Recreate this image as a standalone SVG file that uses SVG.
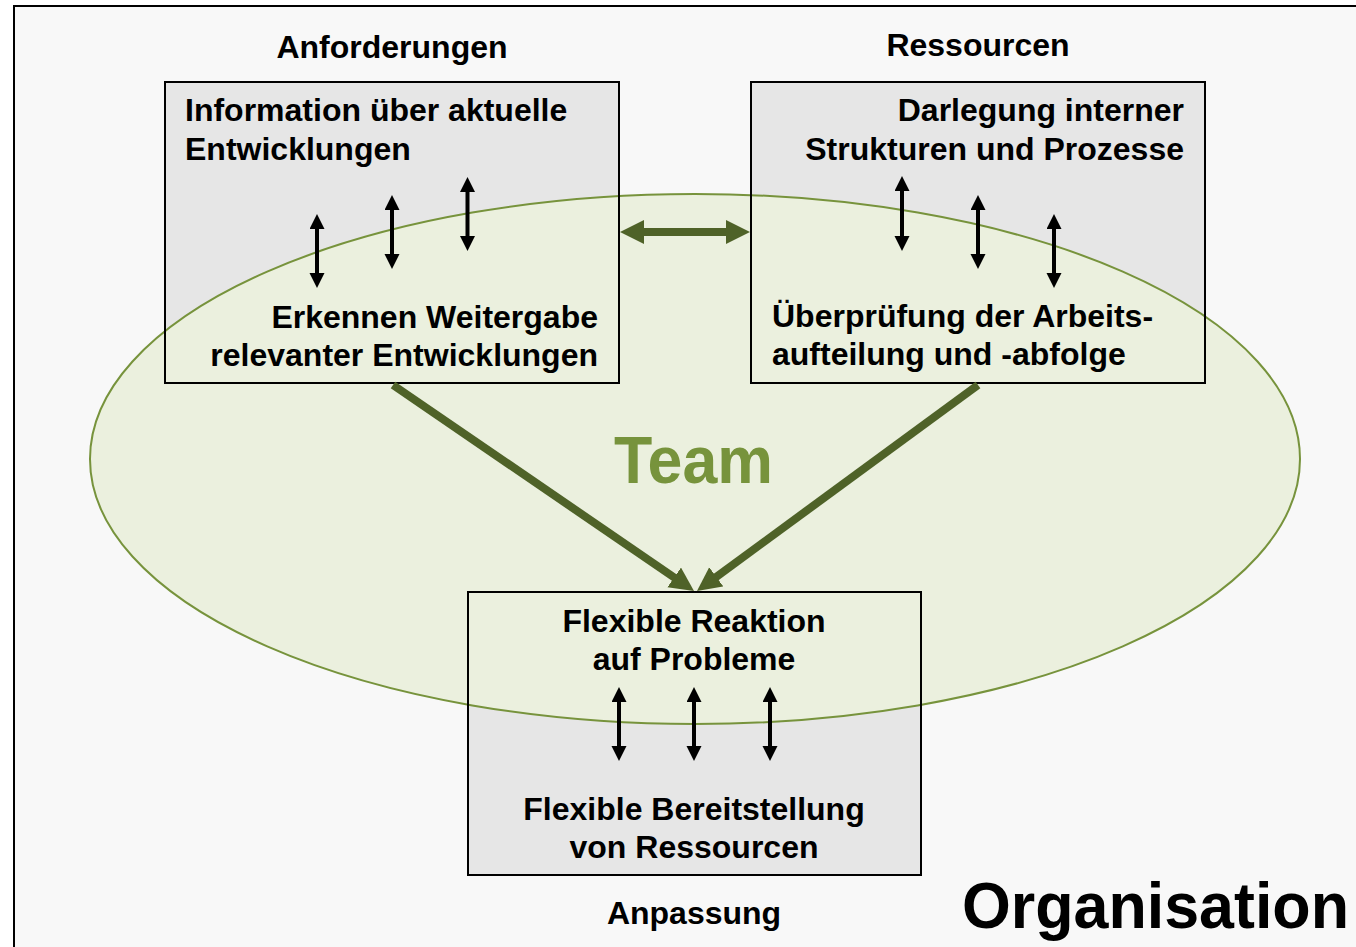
<svg xmlns="http://www.w3.org/2000/svg" width="1356" height="947" viewBox="0 0 1356 947">
<defs>
<style>
.t{font-family:"Liberation Sans",Arial,sans-serif;font-weight:bold;font-size:32px;fill:#000}
.box{fill:none;stroke:#000;stroke-width:2}
.fill{fill:#e6e6e6}
.blk{stroke:#000;stroke-width:4;fill:none;marker-start:url(#bh);marker-end:url(#bh)}
.grn{stroke:#4f6228;stroke-width:8;fill:none}
</style>
<marker id="bh" markerUnits="userSpaceOnUse" markerWidth="16" markerHeight="16" refX="3" refY="7.5" orient="auto-start-reverse" viewBox="0 0 16 16">
<path d="M0,0 L15,7.5 L0,15 z" fill="#000"/>
</marker>
<marker id="gh" markerUnits="userSpaceOnUse" markerWidth="25" markerHeight="25" refX="4" refY="12" orient="auto-start-reverse" viewBox="0 0 25 25">
<path d="M0,0 L24,12 L0,24 z" fill="#4f6228"/>
</marker>
</defs>
<rect x="0" y="0" width="1356" height="947" fill="#ffffff"/>
<rect id="frame" x="14" y="6" width="1400" height="1000" fill="#f8f8f8" stroke="#000" stroke-width="2"/>
<g id="box-fills">
<rect class="fill" x="165" y="82" width="454" height="301"/>
<rect class="fill" x="751" y="82" width="454" height="301"/>
<rect class="fill" x="468" y="592" width="453" height="283"/>
</g>
<g id="team">
<ellipse cx="695" cy="459" rx="605" ry="265" fill="#ebf0de" stroke="#77933c" stroke-width="2"/>
<text x="614" y="483" font-family="Liberation Sans, Arial, sans-serif" font-weight="bold" font-size="66" fill="#77933c" textLength="159" lengthAdjust="spacingAndGlyphs">Team</text>
</g>
<g id="anforderungen">
<rect class="box" x="165" y="82" width="454" height="301"/>
<text class="t" x="392" y="58" text-anchor="middle">Anforderungen</text>
<text class="t" x="185" y="121">Information über aktuelle</text>
<text class="t" x="185" y="160">Entwicklungen</text>
<text class="t" x="598" y="328" text-anchor="end">Erkennen Weitergabe</text>
<text class="t" x="598" y="366" text-anchor="end">relevanter Entwicklungen</text>
</g>
<g id="ressourcen">
<rect class="box" x="751" y="82" width="454" height="301"/>
<text class="t" x="978" y="56" text-anchor="middle">Ressourcen</text>
<text class="t" x="1184" y="121" text-anchor="end">Darlegung interner</text>
<text class="t" x="1184" y="160" text-anchor="end">Strukturen und Prozesse</text>
<text class="t" x="772" y="327">Überprüfung der Arbeits-</text>
<text class="t" x="772" y="365">aufteilung und -abfolge</text>
</g>
<g id="anpassung">
<rect class="box" x="468" y="592" width="453" height="283"/>
<text class="t" x="694" y="632" text-anchor="middle">Flexible Reaktion</text>
<text class="t" x="694" y="670" text-anchor="middle">auf Probleme</text>
<text class="t" x="694" y="820" text-anchor="middle">Flexible Bereitstellung</text>
<text class="t" x="694" y="858" text-anchor="middle">von Ressourcen</text>
<text class="t" x="694" y="924" text-anchor="middle">Anpassung</text>
</g>
<g id="organisation">
<text x="962" y="928" font-family="Liberation Sans, Arial, sans-serif" font-weight="bold" font-size="65" fill="#000" textLength="387" lengthAdjust="spacingAndGlyphs">Organisation</text>
</g>
<g id="connectors">
<line class="blk" x1="317" y1="226" x2="317" y2="276"/>
<line class="blk" x1="392" y1="207" x2="392" y2="257"/>
<line class="blk" x1="467.5" y1="189" x2="467.5" y2="239"/>
<line class="blk" x1="902" y1="188" x2="902" y2="239"/>
<line class="blk" x1="978" y1="207" x2="978" y2="257"/>
<line class="blk" x1="1054" y1="226" x2="1054" y2="276"/>
<line class="blk" x1="619" y1="699" x2="619" y2="749"/>
<line class="blk" x1="694" y1="699" x2="694" y2="749"/>
<line class="blk" x1="770" y1="699" x2="770" y2="749"/>
<line class="grn" x1="640" y1="232" x2="730" y2="232" marker-start="url(#gh)" marker-end="url(#gh)"/>
<line class="grn" x1="393" y1="385" x2="677.5" y2="579.7" marker-end="url(#gh)"/>
<line class="grn" x1="978" y1="385" x2="713.1" y2="579.2" marker-end="url(#gh)"/>
</g>
</svg>
